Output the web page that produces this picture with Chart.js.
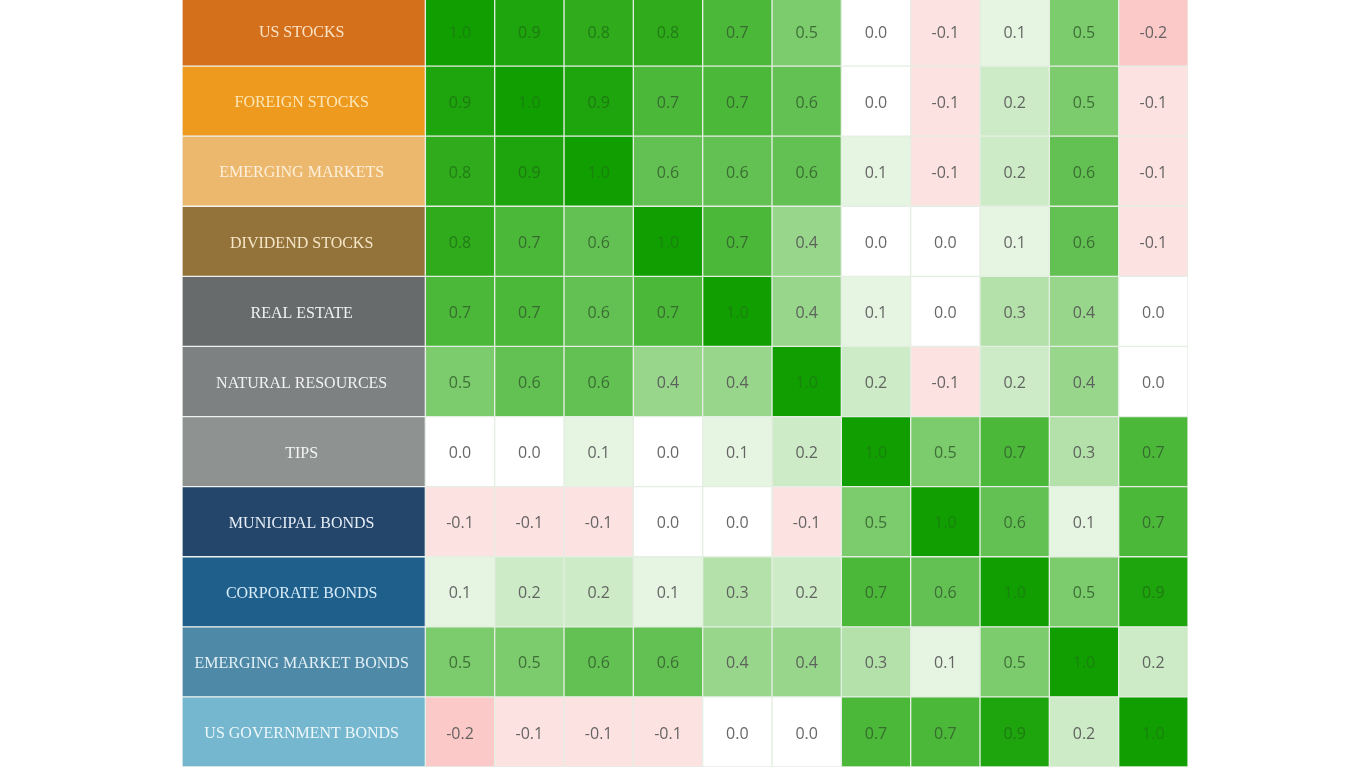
<!DOCTYPE html>
<html>
<head>
<meta charset="utf-8">
<script src="https://cdn.jsdelivr.net/npm/chart.js@4.4.1/dist/chart.umd.min.js"></script>
<style>
  html, body { margin: 0; padding: 0; background: #ffffff; overflow: hidden; }
  #wrap { position: absolute; left: 182px; top: -4px; width: 1006px; height: 771px; }
</style>
</head>
<body>
<div id="wrap"><canvas id="c"></canvas></div>
<script>
const categories = ["US STOCKS","FOREIGN STOCKS","EMERGING MARKETS","DIVIDEND STOCKS","REAL ESTATE","NATURAL RESOURCES","TIPS","MUNICIPAL BONDS","CORPORATE BONDS","EMERGING MARKET BONDS","US GOVERNMENT BONDS"];

const usStocks        = [1.0, 0.9, 0.8, 0.8, 0.7, 0.5, 0.0, -0.1, 0.1, 0.5, -0.2];
const foreignStocks   = [0.9, 1.0, 0.9, 0.7, 0.7, 0.6, 0.0, -0.1, 0.2, 0.5, -0.1];
const emergingMarkets = [0.8, 0.9, 1.0, 0.6, 0.6, 0.6, 0.1, -0.1, 0.2, 0.6, -0.1];
const dividendStocks  = [0.8, 0.7, 0.6, 1.0, 0.7, 0.4, 0.0, 0.0, 0.1, 0.6, -0.1];
const realEstate      = [0.7, 0.7, 0.6, 0.7, 1.0, 0.4, 0.1, 0.0, 0.3, 0.4, 0.0];
const naturalRes      = [0.5, 0.6, 0.6, 0.4, 0.4, 1.0, 0.2, -0.1, 0.2, 0.4, 0.0];
const tips            = [0.0, 0.0, 0.1, 0.0, 0.1, 0.2, 1.0, 0.5, 0.7, 0.3, 0.7];
const municipalBonds  = [-0.1, -0.1, -0.1, 0.0, 0.0, -0.1, 0.5, 1.0, 0.6, 0.1, 0.7];
const corporateBonds  = [0.1, 0.2, 0.2, 0.1, 0.3, 0.2, 0.7, 0.6, 1.0, 0.5, 0.9];
const emBonds         = [0.5, 0.5, 0.6, 0.6, 0.4, 0.4, 0.3, 0.1, 0.5, 1.0, 0.2];
const usGovBonds      = [-0.2, -0.1, -0.1, -0.1, 0.0, 0.0, 0.7, 0.7, 0.9, 0.2, 1.0];

const matrix = [usStocks, foreignStocks, emergingMarkets, dividendStocks, realEstate, naturalRes, tips, municipalBonds, corporateBonds, emBonds, usGovBonds];

const labelColors = ["#d4701c","#ee9a1f","#ecb86e","#94733a","#686b6b","#7e8181","#8e9291","#25466b","#1f5f8c","#4e8aa8","#74b7ce"];
const labelTextColors = ["#fbe3c6","#fde6b8","#fdf0dc","#f5e6c8","#f2f2f2","#f2f2f2","#f4f4f4","#e6eef8","#d8ecf8","#e4f0f6","#eef7fa"];

const scale = {
  "1.0": "#109e00", "0.9": "#1ea40c", "0.8": "#2fab1c", "0.7": "#4cb83a",
  "0.6": "#63c153", "0.5": "#7ccb6d", "0.4": "#98d68c", "0.3": "#b4e1aa",
  "0.2": "#cdebc6", "0.1": "#e6f4e2", "0.0": "#ffffff", "-0.1": "#fde2e2", "-0.2": "#fcc9c9"
};
function cellColor(v) { return scale[v.toFixed(1)] || "#ffffff"; }
function textColor(v) {
  if (v >= 0.95) return "rgba(30,120,20,0.7)";
  if (v >= 0.75) return "rgba(30,110,20,0.75)";
  if (v >= 0.45) return "rgba(50,95,45,0.85)";
  return "rgba(85,85,85,0.9)";
}

const LABEL_W = 3.51;
const datasets = [];
datasets.push({
  label: "labels",
  data: categories.map(() => [-LABEL_W, 0]),
  backgroundColor: labelColors,
  borderColor: "rgba(235,240,235,0.7)",
  borderWidth: 1,
  borderSkipped: false
});
for (let c = 0; c < categories.length; c++) {
  datasets.push({
    label: categories[c],
    data: categories.map(() => [c, c + 1]),
    backgroundColor: categories.map((_, r) => cellColor(matrix[r][c])),
    borderColor: "#e4eee2",
    borderWidth: 1,
    borderSkipped: false
  });
}

const textPlugin = {
  id: "cellText",
  afterDatasetsDraw(chart) {
    const ctx = chart.ctx;
    const xs = chart.scales.x, ys = chart.scales.y;
    ctx.save();
    ctx.textAlign = "center";
    ctx.textBaseline = "middle";
    categories.forEach((name, r) => {
      const y = ys.getPixelForValue(r);
      ctx.font = "16px 'Liberation Serif', serif";
      ctx.fillStyle = labelTextColors[r];
      ctx.fillText(name, xs.getPixelForValue(-LABEL_W / 2) - 2, y + 2);
      ctx.font = "16px 'Open Sans', sans-serif";
      for (let c = 0; c < categories.length; c++) {
        const v = matrix[r][c];
        ctx.fillStyle = textColor(v);
        ctx.fillText(v.toFixed(1), xs.getPixelForValue(c + 0.5), y + 2);
      }
    });
    ctx.restore();
  }
};

new Chart(document.getElementById("c"), {
  type: "bar",
  data: { labels: categories, datasets },
  options: {
    indexAxis: "y",
    responsive: true,
    maintainAspectRatio: false,
    animation: false,
    layout: { padding: 0 },
    datasets: { bar: { grouped: false, categoryPercentage: 1.0, barPercentage: 1.0 } },
    plugins: { legend: { display: false }, tooltip: { enabled: false } },
    scales: {
      x: { type: "linear", min: -LABEL_W, max: 11, display: false },
      y: { type: "category", display: false, offset: true }
    }
  },
  plugins: [textPlugin]
});
</script>
</body>
</html>
